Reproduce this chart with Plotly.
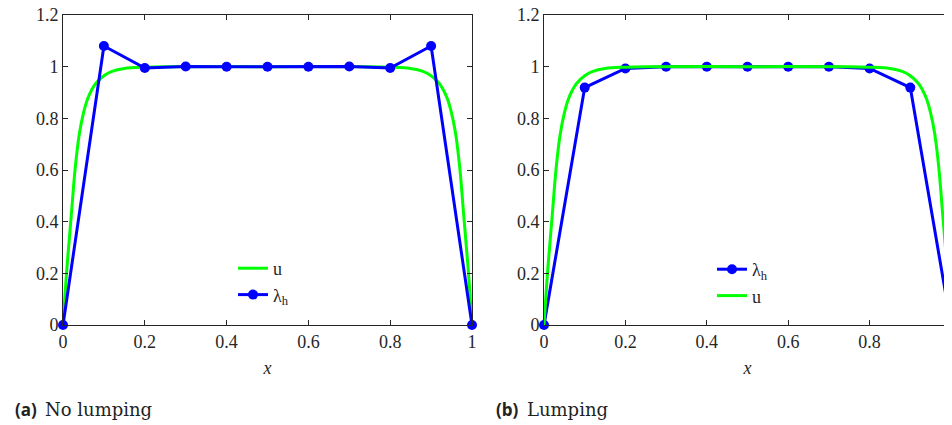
import plotly.graph_objects as go

# ---- data ----
node_x = [0.0, 0.1, 0.2, 0.3, 0.4, 0.5, 0.6, 0.7, 0.8, 0.9, 1.0]
lam_no_lumping = [0.0, 1.080, 0.995, 1.0005, 1.0, 1.0, 1.0, 1.0005, 0.995, 1.080, 0.0]
lam_lumping = [0.0, 0.919, 0.993, 1.0, 1.0, 1.0, 1.0, 1.0, 0.993, 0.919, 0.0]

u_x = [0.0, 0.005, 0.01, 0.02, 0.03, 0.04, 0.05, 0.06, 0.07, 0.08, 0.1, 0.12, 0.15, 0.2, 0.25,
       0.5,
       0.75, 0.8, 0.85, 0.88, 0.9, 0.92, 0.93, 0.94, 0.95, 0.96, 0.97, 0.98, 0.99, 0.995, 1.0]
u_y = [0.0, 0.12, 0.23, 0.42, 0.61, 0.74, 0.82, 0.875, 0.91, 0.935, 0.965, 0.982, 0.993, 0.998, 1.0,
       1.0,
       1.0, 0.998, 0.993, 0.982, 0.965, 0.935, 0.91, 0.875, 0.82, 0.74, 0.61, 0.42, 0.23, 0.12, 0.0]

x_ticks = [0, 0.2, 0.4, 0.6, 0.8, 1.0]
x_tick_labels = ["0", "0.2", "0.4", "0.6", "0.8", "1"]
y_ticks = [0, 0.2, 0.4, 0.6, 0.8, 1.0, 1.2]
y_tick_labels = ["0", "0.2", "0.4", "0.6", "0.8", "1", "1.2"]

GREEN = "#00FF00"
BLUE = "#0000FF"
AX = "#262626"
SERIF = "Liberation Serif, Times New Roman, serif"

fig = go.Figure()

# left panel: u then lambda_h
fig.add_trace(go.Scatter(x=u_x, y=u_y, mode="lines", name="u",
                         line=dict(color=GREEN, width=3), line_shape="spline",
                         xaxis="x", yaxis="y", legend="legend", cliponaxis=False))
fig.add_trace(go.Scatter(x=node_x, y=lam_no_lumping, mode="lines+markers", name="λ<sub>h</sub>",
                         line=dict(color=BLUE, width=3), marker=dict(color=BLUE, size=10),
                         xaxis="x", yaxis="y", legend="legend", cliponaxis=False))
# right panel: lambda_h then u
fig.add_trace(go.Scatter(x=node_x, y=lam_lumping, mode="lines+markers", name="λ<sub>h</sub>",
                         line=dict(color=BLUE, width=3), marker=dict(color=BLUE, size=10),
                         xaxis="x2", yaxis="y2", legend="legend2", cliponaxis=False))
fig.add_trace(go.Scatter(x=u_x, y=u_y, mode="lines", name="u",
                         line=dict(color=GREEN, width=3), line_shape="spline",
                         xaxis="x2", yaxis="y2", legend="legend2", cliponaxis=False))

# the page body has an 8px margin; positions below are given in window pixels
OFF = 8
W, H = 952, 425

def px(xw):
    return (xw - OFF) / W

def py(yw):
    return (H - (yw - OFF)) / H

ydom = [py(325), py(15)]

def xaxis(dom, anchor):
    return dict(domain=dom, anchor=anchor, range=[0, 1], tickvals=x_ticks, ticktext=x_tick_labels,
                ticks="inside", ticklen=5, tickcolor=AX, showline=True, linecolor=AX, linewidth=1,
                mirror="ticks", showgrid=False, zeroline=False, automargin=False,
                ticklabeloverflow="allow",
                tickfont=dict(family=SERIF, size=18, color=AX),
                title=dict(text="<i>x</i>", font=dict(family=SERIF, size=18, color=AX), standoff=10))

def yaxis(anchor):
    return dict(domain=ydom, anchor=anchor, range=[0, 1.2], tickvals=y_ticks, ticktext=y_tick_labels,
                ticks="inside", ticklen=5, tickcolor=AX, showline=True, linecolor=AX, linewidth=1,
                mirror="ticks", showgrid=False, zeroline=False, automargin=False,
                ticklabeloverflow="allow",
                tickfont=dict(family=SERIF, size=18, color=AX))

legend_common = dict(bgcolor="rgba(0,0,0,0)", borderwidth=0, font=dict(family=SERIF, size=18, color=AX),
                     xanchor="left", yanchor="top", tracegroupgap=0, itemsizing="trace")

cap_y = py(409)
fig.update_layout(
    width=W, height=H,
    margin=dict(l=0, r=0, t=0, b=0, pad=0, autoexpand=False),
    paper_bgcolor="white", plot_bgcolor="white",
    xaxis=xaxis([px(63), px(472)], "y"),
    yaxis=yaxis("x"),
    xaxis2=xaxis([px(544), px(951)], "y2"),
    yaxis2=yaxis("x2"),
    legend=dict(x=px(233), y=py(250), **legend_common),
    legend2=dict(x=px(712), y=py(251), **legend_common),
    showlegend=True,
    annotations=[
        dict(text="<b>(a)</b>", x=px(13), y=cap_y, xref="paper", yref="paper",
             xanchor="left", yanchor="middle", showarrow=False,
             font=dict(family="Open Sans, Noto Sans, sans-serif", size=17, color="#222")),
        dict(text="No lumping", x=px(43), y=cap_y, xref="paper", yref="paper",
             xanchor="left", yanchor="middle", showarrow=False,
             font=dict(family="DejaVu Serif, serif", size=18, color="#222")),
        dict(text="<b>(b)</b>", x=px(494), y=cap_y, xref="paper", yref="paper",
             xanchor="left", yanchor="middle", showarrow=False,
             font=dict(family="Open Sans, Noto Sans, sans-serif", size=17, color="#222")),
        dict(text="Lumping", x=px(525), y=cap_y, xref="paper", yref="paper",
             xanchor="left", yanchor="middle", showarrow=False,
             font=dict(family="DejaVu Serif, serif", size=18, color="#222")),
    ],
)

fig.write_html("out.html")
